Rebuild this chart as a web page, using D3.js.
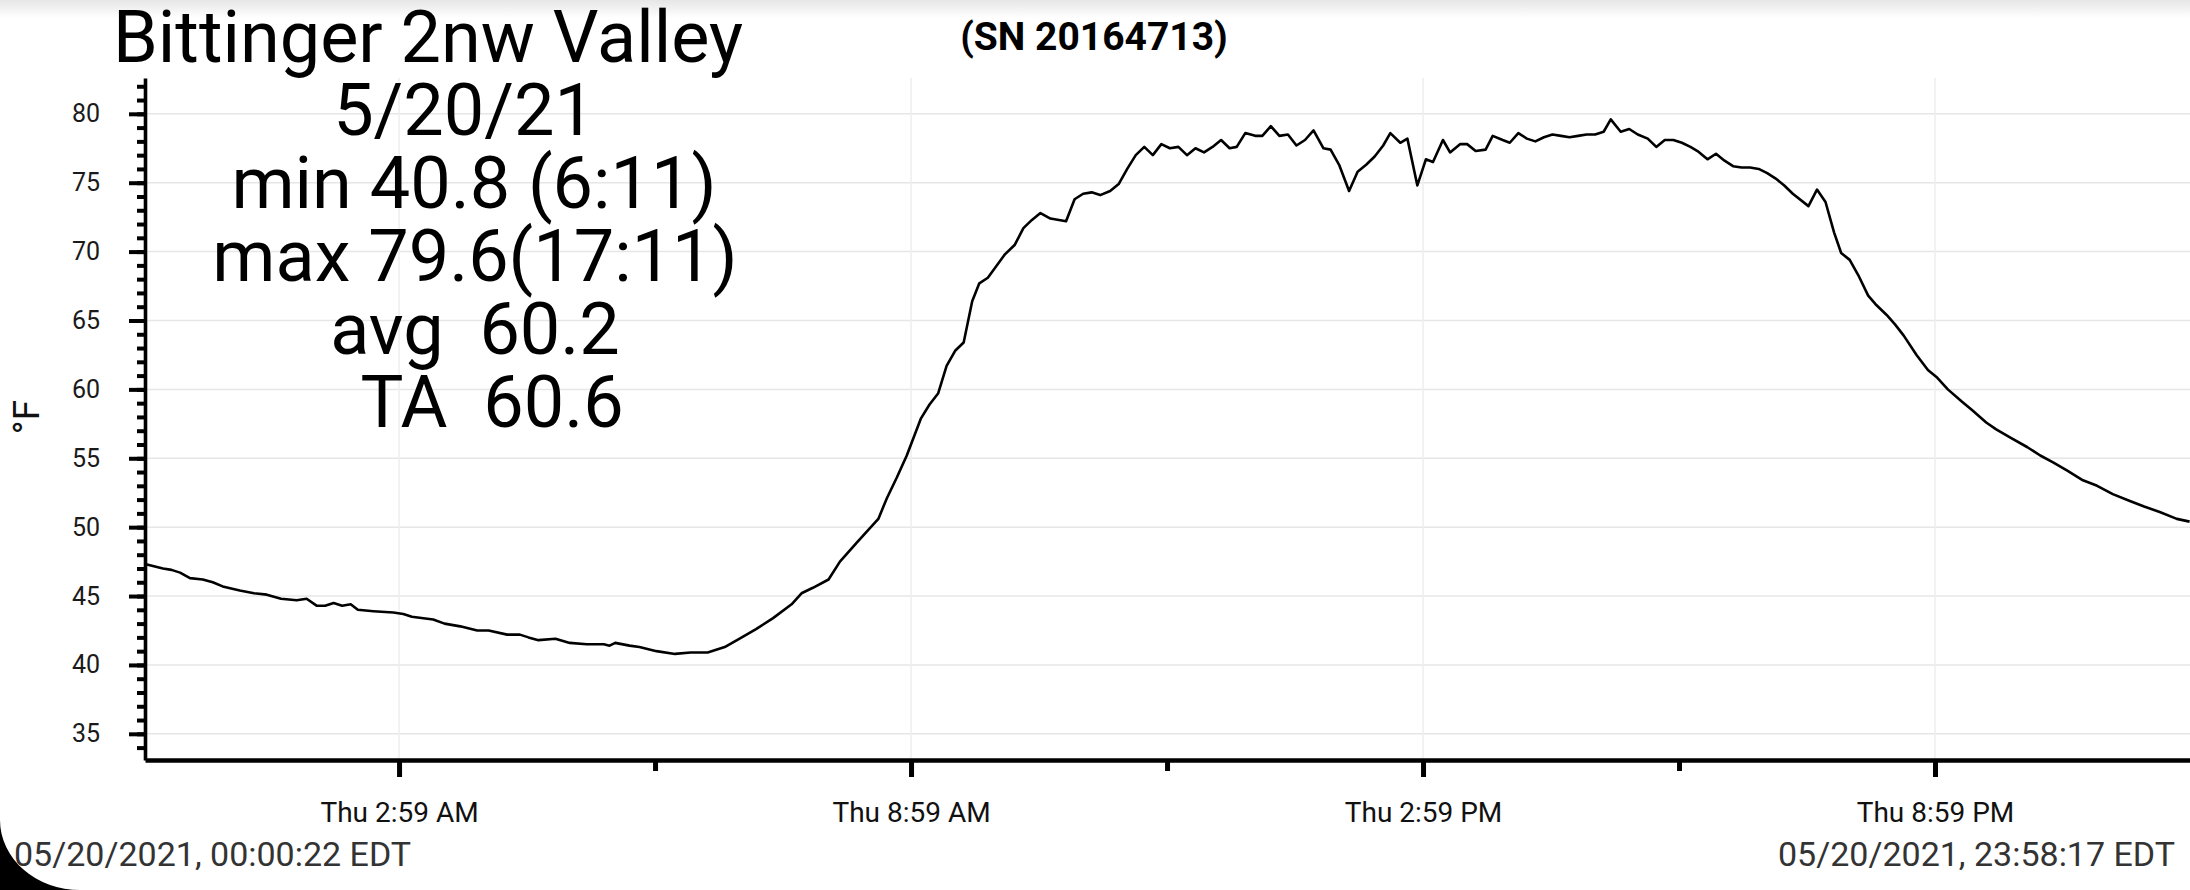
<!DOCTYPE html>
<html>
<head>
<meta charset="utf-8">
<script src="https://cdn.jsdelivr.net/npm/d3@7"></script>
<style>
  html, body { margin: 0; padding: 0; background: #fff; overflow: hidden; }
  svg { display: block; font-family: Roboto, "Noto Sans", sans-serif; }
</style>
</head>
<body>
<svg width="2190" height="890"></svg>
<script>
// logger readings, minutes after midnight on 5/20/21
var minutes = [
  1, 13, 19, 25, 32, 41, 48, 55, 67, 77, 86, 96, 107, 114, 121, 127, 133, 139, 145, 150,
  161, 175, 182, 188, 203, 211, 222, 234, 242, 255, 264, 270, 277, 289, 299, 311, 323, 327, 331, 341,
  348, 360, 373, 384, 396, 408, 420, 430, 442, 455, 462, 470, 481, 489, 501, 516, 522, 529, 536, 546,
  552, 558, 564, 570, 576, 582, 587, 593, 605, 612, 618, 624, 630, 637, 648, 654, 660, 666, 672, 679,
  685, 691, 697, 703, 709, 715, 721, 727, 733, 739, 745, 751, 757, 763, 768, 774, 781, 786, 792, 798,
  804, 810, 816, 822, 829, 834, 840, 847, 853, 859, 865, 871, 876, 883, 888, 895, 901, 906, 913, 918,
  925, 930, 936, 943, 948, 955, 960, 966, 972, 978, 984, 990, 996, 1002, 1008, 1014, 1020, 1026, 1031, 1038,
  1044, 1050, 1057, 1063, 1069, 1075, 1081, 1087, 1092, 1099, 1105, 1111, 1117, 1123, 1129, 1135, 1141, 1147, 1153, 1159,
  1170, 1176, 1182, 1188, 1193, 1199, 1205, 1212, 1217, 1225, 1231, 1237, 1246, 1254, 1260, 1268, 1278, 1285, 1295, 1302,
  1312, 1324, 1333, 1342, 1352, 1363, 1373, 1384, 1396, 1406, 1417, 1429, 1438
];
var tempF = [
  47.3, 47.0, 46.9, 46.7, 46.3, 46.2, 46.0, 45.7, 45.4, 45.2, 45.1, 44.8, 44.7, 44.8, 44.3, 44.3, 44.5, 44.3, 44.4, 44.0,
  43.9, 43.8, 43.7, 43.5, 43.3, 43.0, 42.8, 42.5, 42.5, 42.2, 42.2, 42.0, 41.8, 41.9, 41.6, 41.5, 41.5, 41.4, 41.6, 41.4,
  41.3, 41.0, 40.8, 40.9, 40.9, 41.3, 42.0, 42.6, 43.4, 44.4, 45.2, 45.6, 46.2, 47.5, 48.9, 50.6, 52.1, 53.6, 55.2, 57.9,
  58.9, 59.7, 61.7, 62.8, 63.4, 66.4, 67.7, 68.1, 69.8, 70.5, 71.7, 72.3, 72.8, 72.4, 72.2, 73.8, 74.2, 74.3, 74.1, 74.4,
  74.9, 76.0, 77.0, 77.6, 77.0, 77.8, 77.5, 77.6, 77.0, 77.5, 77.2, 77.6, 78.1, 77.5, 77.6, 78.6, 78.4, 78.4, 79.1, 78.4,
  78.5, 77.7, 78.1, 78.8, 77.5, 77.4, 76.3, 74.4, 75.8, 76.3, 76.9, 77.7, 78.6, 77.9, 78.2, 74.8, 76.7, 76.5, 78.1, 77.2,
  77.8, 77.8, 77.3, 77.4, 78.4, 78.1, 77.9, 78.6, 78.2, 78.0, 78.3, 78.5, 78.4, 78.3, 78.4, 78.5, 78.5, 78.7, 79.6, 78.7,
  78.9, 78.5, 78.2, 77.6, 78.1, 78.1, 77.9, 77.6, 77.3, 76.7, 77.1, 76.6, 76.2, 76.1, 76.1, 76.0, 75.7, 75.3, 74.8, 74.2,
  73.3, 74.5, 73.6, 71.4, 69.9, 69.4, 68.3, 66.8, 66.2, 65.4, 64.7, 63.9, 62.5, 61.4, 60.9, 60.0, 59.1, 58.5, 57.6, 57.1,
  56.5, 55.8, 55.2, 54.7, 54.1, 53.4, 53.0, 52.4, 51.9, 51.5, 51.1, 50.6, 50.4
];

var yTicks = [35, 40, 45, 50, 55, 60, 65, 70, 75, 80];
var xTickTimes = ['02:59', '08:59', '14:59', '20:59'];
var xMinorTimes = ['05:59', '11:59', '17:59'];

var titleText = 'Bittinger 2nw Valley';
var serialText = '(SN 20164713)';
var statLines = ['5/20/21', 'min 40.8 (6:11)', 'max 79.6(17:11)', 'avg  60.2', 'TA  60.6'];
var unitLabel = '\u00B0F';
var startLabel = '05/20/2021, 00:00:22 EDT';
var endLabel = '05/20/2021, 23:58:17 EDT';

var svg = d3.select('svg');
var plotLeft = 145, plotRight = 2190, plotTop = 78, plotBottom = 760;

var atTime = function(h, m, s) { return new Date(2021, 4, 20, h, m, s || 0); };
var fromHM = function(str) {
  var p = str.split(':');
  return atTime(+p[0], +p[1]);
};

var x = d3.scaleTime()
  .domain([atTime(0, 0, 22), atTime(23, 58, 17)])
  .range([plotLeft, plotRight]);
var y = d3.scaleLinear()
  .domain([33.1, 82.6])
  .range([plotBottom, plotTop]);

var points = minutes.map(function(m, i) {
  return { date: atTime(0, m), value: tempF[i] };
});

// faint shade along the top edge of the screenshot
var defs = svg.append('defs');
var grad = defs.append('linearGradient')
  .attr('id', 'topShade').attr('x1', 0).attr('y1', 0).attr('x2', 0).attr('y2', 1);
grad.append('stop').attr('offset', 0).attr('stop-color', '#e6e6e6');
grad.append('stop').attr('offset', 1).attr('stop-color', '#ffffff');
svg.append('rect').attr('x', 0).attr('y', 0).attr('width', 2190).attr('height', 18)
  .attr('fill', 'url(#topShade)');

defs.append('clipPath').attr('id', 'plotClip')
  .append('rect')
  .attr('x', plotLeft).attr('y', plotTop)
  .attr('width', plotRight - plotLeft).attr('height', plotBottom - plotTop);

// grid
svg.append('g')
  .selectAll('line')
  .data(yTicks)
  .enter()
  .append('line')
  .attr('x1', plotLeft).attr('x2', plotRight)
  .attr('y1', function(d) { return y(d); })
  .attr('y2', function(d) { return y(d); })
  .attr('stroke', '#e6e6e6').attr('stroke-width', 1.5);

svg.append('g')
  .selectAll('line')
  .data(xTickTimes.map(fromHM))
  .enter()
  .append('line')
  .attr('x1', function(d) { return x(d); })
  .attr('x2', function(d) { return x(d); })
  .attr('y1', plotTop).attr('y2', plotBottom)
  .attr('stroke', '#eeeeee').attr('stroke-width', 1.5);

// temperature trace
svg.append('path')
  .datum(points)
  .attr('clip-path', 'url(#plotClip)')
  .attr('fill', 'none')
  .attr('stroke', '#000')
  .attr('stroke-width', 2.6)
  .attr('stroke-linejoin', 'round')
  .attr('d', d3.line()
    .x(function(d) { return x(d.date); })
    .y(function(d) { return y(d.value); }));

// y axis: minor ticks every degree, labelled ticks every five
svg.append('g')
  .attr('transform', 'translate(' + plotLeft + ',0)')
  .call(d3.axisLeft(y).tickValues(d3.range(34, 83)).tickSize(8).tickSizeOuter(0).tickFormat(''))
  .call(function(g) {
    g.select('.domain').attr('stroke-width', 3.6);
    g.selectAll('.tick line').attr('stroke-width', 4);
  });

svg.append('g')
  .attr('transform', 'translate(' + plotLeft + ',0)')
  .call(d3.axisLeft(y).tickValues(yTicks).tickSize(16).tickPadding(29).tickSizeOuter(0).tickFormat(d3.format('d')))
  .call(function(g) {
    g.select('.domain').remove();
    g.selectAll('.tick line').attr('stroke-width', 4);
    g.selectAll('.tick text')
      .attr('font-family', 'Roboto, sans-serif')
      .attr('font-size', 25)
      .attr('fill', '#1a1a1a');
  });

// x axis
svg.append('g')
  .attr('transform', 'translate(0,' + plotBottom + ')')
  .call(d3.axisBottom(x).tickValues(xMinorTimes.map(fromHM)).tickSize(11).tickSizeOuter(0).tickFormat(''))
  .call(function(g) {
    g.select('.domain').attr('stroke-width', 4.5);
    g.selectAll('.tick line').attr('stroke-width', 5);
  });

svg.append('g')
  .attr('transform', 'translate(0,' + plotBottom + ')')
  .call(d3.axisBottom(x).tickValues(xTickTimes.map(fromHM)).tickSize(17).tickPadding(25).tickSizeOuter(0)
    .tickFormat(d3.timeFormat('%a %-I:%M %p')))
  .call(function(g) {
    g.select('.domain').remove();
    g.selectAll('.tick line').attr('stroke-width', 5);
    g.selectAll('.tick text')
      .attr('font-family', 'Roboto, sans-serif')
      .attr('font-size', 28)
      .attr('fill', '#111');
  });

// unit label
svg.append('text')
  .attr('transform', 'translate(39,417) rotate(-90)')
  .attr('text-anchor', 'middle')
  .attr('font-size', 37)
  .attr('fill', '#111')
  .text(unitLabel);

// headings
svg.append('text')
  .attr('x', 113).attr('y', 62)
  .attr('font-size', 72)
  .attr('fill', '#000')
  .text(titleText);

svg.append('text')
  .attr('x', 1094).attr('y', 50)
  .attr('text-anchor', 'middle')
  .attr('font-size', 39)
  .attr('font-weight', 'bold')
  .attr('fill', '#000')
  .text(serialText);

var statCenters = [464, 474, 475, 475, 492];
svg.append('g')
  .selectAll('text')
  .data(statLines)
  .enter()
  .append('text')
  .attr('x', function(d, i) { return statCenters[i]; })
  .attr('y', function(d, i) { return 135 + i * 73; })
  .attr('text-anchor', 'middle')
  .attr('font-size', 72)
  .attr('fill', '#000')
  .style('white-space', 'pre')
  .text(function(d) { return d; });

// rounded screen corner, bottom left
svg.append('path')
  .attr('d', 'M0,820 A80,70 0 0 0 80,890 L0,890 Z')
  .attr('fill', '#000');

// range stamps
svg.append('text')
  .attr('x', 14).attr('y', 866)
  .attr('font-size', 34)
  .attr('fill', '#333')
  .text(startLabel);

svg.append('text')
  .attr('x', 2175).attr('y', 866)
  .attr('text-anchor', 'end')
  .attr('font-size', 34)
  .attr('fill', '#333')
  .text(endLabel);
</script>
</body>
</html>
